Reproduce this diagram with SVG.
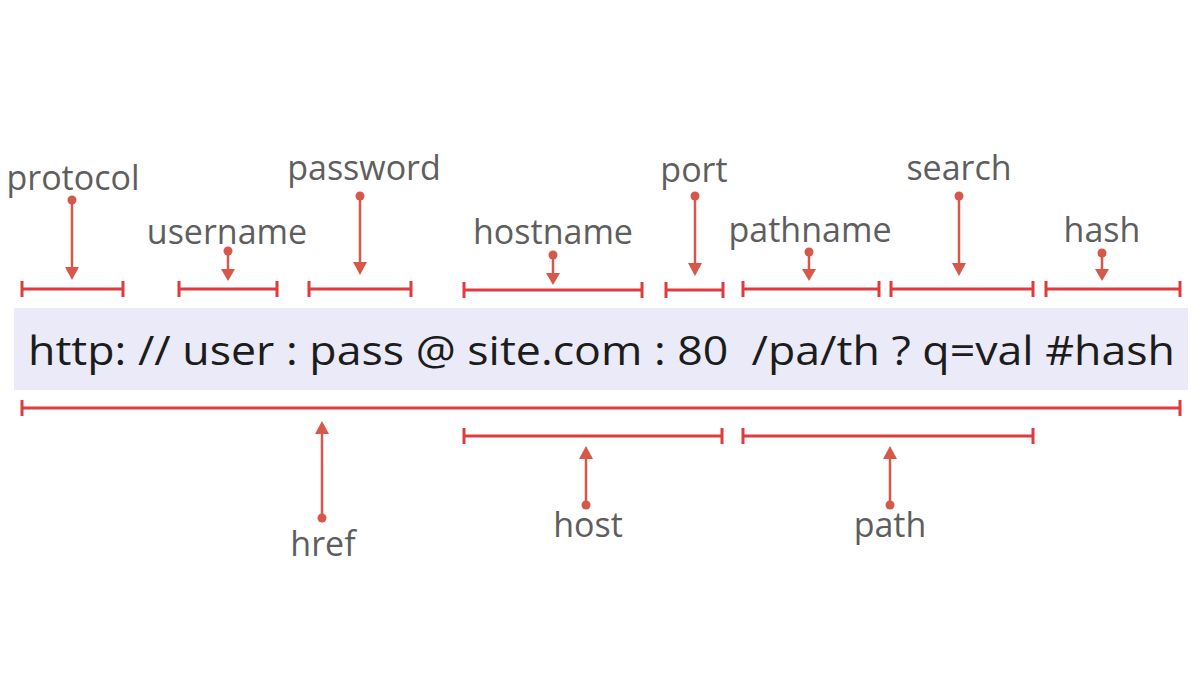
<svg xmlns="http://www.w3.org/2000/svg" width="1200" height="684" viewBox="0 0 1200 684">
<defs>
<style>
.lbl{font-family:"Open Sans","Noto Sans",sans-serif;font-size:34px;fill:#5e5e5e;text-anchor:middle}
.url{font-family:"Open Sans","Noto Sans",sans-serif;font-size:41px;fill:#1c1c1c;white-space:pre}
.br{stroke:#e03a3e;stroke-width:3;fill:none}
.ar{stroke:#d8574b;stroke-width:2.5;fill:none}
.dot{fill:#d8574b}
.head{fill:#d8574b}
</style>
</defs>
<rect width="1200" height="684" fill="#ffffff"/>
<rect id="url-band" x="14" y="308" width="1174" height="82" fill="#ebeaf8"/>
<text class="url" x="28" y="365" textLength="1147" lengthAdjust="spacingAndGlyphs" xml:space="preserve">http: // user : pass @ site.com : 80  /pa/th ? q=val #hash</text>

<g id="connectors">
  <path class="br" d="M22 289H123M22 281V297M123 281V297"/>
  <path class="br" d="M179 289H277M179 281V297M277 281V297"/>
  <path class="br" d="M309 289H411M309 281V297M411 281V297"/>
  <path class="br" d="M464 290H642M464 282V298M642 282V298"/>
  <path class="br" d="M666 290H723M666 282V298M723 282V298"/>
  <path class="br" d="M743 289H879M743 281V297M879 281V297"/>
  <path class="br" d="M891 289H1033M891 281V297M1033 281V297"/>
  <path class="br" d="M1046 289H1180M1046 281V297M1180 281V297"/>
  <path class="br" d="M22 408H1180M22 400V416M1180 400V416"/>
  <path class="br" d="M464 436H722M464 428V444M722 428V444"/>
  <path class="br" d="M743 436H1033M743 428V444M1033 428V444"/>
  <path class="ar" d="M72 200V268"/><circle class="dot" cx="72" cy="200" r="4.5"/><path class="head" d="M65 267H79L72 280Z"/>
  <path class="ar" d="M228 251V270"/><circle class="dot" cx="228" cy="251" r="4.5"/><path class="head" d="M221 269H235L228 281Z"/>
  <path class="ar" d="M360 196V263"/><circle class="dot" cx="360" cy="196" r="4.5"/><path class="head" d="M353 262H367L360 275Z"/>
  <path class="ar" d="M553 255V274"/><circle class="dot" cx="553" cy="255" r="4.5"/><path class="head" d="M546 273H560L553 285Z"/>
  <path class="ar" d="M695 196V264"/><circle class="dot" cx="695" cy="196" r="4.5"/><path class="head" d="M688 263H702L695 276Z"/>
  <path class="ar" d="M809 252V270"/><circle class="dot" cx="809" cy="252" r="4.5"/><path class="head" d="M802 269H816L809 281Z"/>
  <path class="ar" d="M959 196V264"/><circle class="dot" cx="959" cy="196" r="4.5"/><path class="head" d="M952 263H966L959 276Z"/>
  <path class="ar" d="M1102 253V270"/><circle class="dot" cx="1102" cy="253" r="4.5"/><path class="head" d="M1095 269H1109L1102 281Z"/>
  <path class="ar" d="M322 518V433"/><circle class="dot" cx="322" cy="518" r="4.5"/><path class="head" d="M315 434H329L322 421Z"/>
  <path class="ar" d="M586 505V458"/><circle class="dot" cx="586" cy="505" r="4.5"/><path class="head" d="M579 459H593L586 446Z"/>
  <path class="ar" d="M890 505V458"/><circle class="dot" cx="890" cy="505" r="4.5"/><path class="head" d="M883 459H897L890 446Z"/>
</g>

<g id="protocol"><text class="lbl" x="73" y="190">protocol</text></g>
<g id="username"><text class="lbl" x="227" y="244">username</text></g>
<g id="password"><text class="lbl" x="364" y="180">password</text></g>
<g id="hostname"><text class="lbl" x="553" y="244">hostname</text></g>
<g id="port"><text class="lbl" x="694" y="182">port</text></g>
<g id="pathname"><text class="lbl" x="810" y="242">pathname</text></g>
<g id="search"><text class="lbl" x="959" y="180">search</text></g>
<g id="hash"><text class="lbl" x="1102" y="242">hash</text></g>
<g id="href"><text class="lbl" x="323" y="556">href</text></g>
<g id="host"><text class="lbl" x="588" y="537">host</text></g>
<g id="path"><text class="lbl" x="890" y="537">path</text></g>
</svg>
